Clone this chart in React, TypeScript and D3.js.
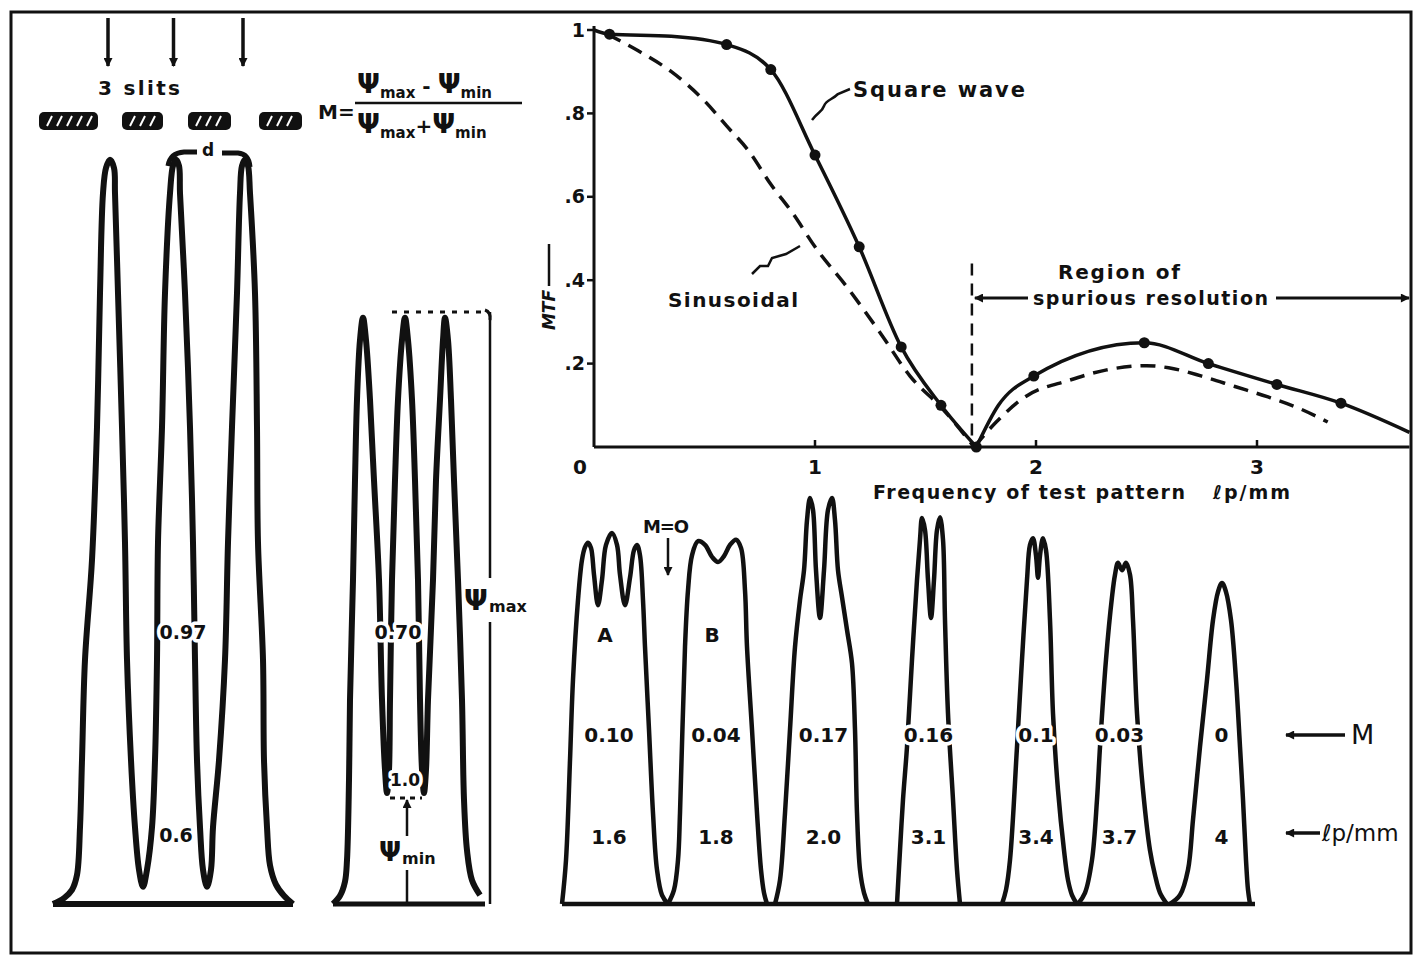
import React from "react";
import * as d3 from "d3";

type Pt = [number, number];

// MTF plot: frequency (lp/mm) and modulation
const squareFreq = [0, 0.07, 0.35, 0.6, 0.8, 1.0, 1.2, 1.39, 1.57, 1.73, 1.83, 1.99, 2.49, 2.78, 3.09, 3.38, 3.69];
const squareMTF = [1.0, 0.99, 0.985, 0.965, 0.905, 0.7, 0.48, 0.24, 0.1, 0.0, 0.1, 0.17, 0.25, 0.2, 0.15, 0.105, 0.035];
const squareMeasured = [false, true, false, true, true, true, true, true, true, true, false, true, true, true, true, true, false];

const sineFreq = [0.06, 0.2, 0.35, 0.5, 0.6, 0.7, 0.8, 0.9, 1.0, 1.15, 1.3, 1.43, 1.58, 1.72, 1.82, 1.95, 2.15, 2.32, 2.5, 2.6, 2.75, 2.9, 3.05, 3.18, 3.32];
const sineMTF = [0.99, 0.95, 0.9, 0.83, 0.77, 0.71, 0.63, 0.56, 0.48, 0.38, 0.27, 0.17, 0.09, 0.0, 0.06, 0.12, 0.16, 0.185, 0.195, 0.19, 0.17, 0.145, 0.12, 0.095, 0.06];

const mtfTicks = [0.2, 0.4, 0.6, 0.8, 1];
const mtfTickLabels = [".2", ".4", ".6", ".8", "1"];
const freqTicks = [1, 2, 3];
const spuriousFrom = 1.71;

// image profiles: [position (cm on the page), relative irradiance]
const slitProfile: Pt[] = [
  [0.41, 0], [0.52, 0.008], [0.6, 0.019], [0.65, 0.039], [0.68, 0.103], [0.7, 0.193], [0.73, 0.328],
  [0.8, 0.462], [0.85, 0.64], [0.88, 0.82], [0.91, 0.954], [0.94, 0.988], [0.98, 0.999], [1.02, 0.988],
  [1.03, 0.954], [1.06, 0.82], [1.1, 0.64], [1.13, 0.485], [1.15, 0.328], [1.19, 0.193], [1.23, 0.103],
  [1.27, 0.046], [1.31, 0.023], [1.35, 0.046], [1.4, 0.103], [1.43, 0.193], [1.45, 0.328], [1.46, 0.485],
  [1.5, 0.64], [1.53, 0.82], [1.58, 0.954], [1.61, 0.991], [1.64, 0.999], [1.67, 0.991], [1.68, 0.954],
  [1.73, 0.82], [1.78, 0.64], [1.81, 0.485], [1.83, 0.328], [1.85, 0.193], [1.88, 0.103], [1.91, 0.046],
  [1.95, 0.023], [1.99, 0.046], [2.01, 0.103], [2.07, 0.193], [2.13, 0.328], [2.16, 0.485], [2.2, 0.64],
  [2.25, 0.82], [2.28, 0.954], [2.3, 0.991], [2.33, 0.999], [2.36, 0.991], [2.38, 0.954], [2.43, 0.82],
  [2.45, 0.64], [2.46, 0.485], [2.51, 0.328], [2.52, 0.193], [2.55, 0.103], [2.58, 0.052], [2.64, 0.026],
  [2.72, 0.011], [2.81, 0],
];

const blurredProfile: Pt[] = [
  [3.21, 0], [3.28, 0.011], [3.33, 0.03], [3.35, 0.059], [3.37, 0.166], [3.38, 0.274], [3.41, 0.435],
  [3.43, 0.569], [3.45, 0.677], [3.48, 0.757], [3.51, 0.787], [3.54, 0.757], [3.58, 0.677], [3.62, 0.569],
  [3.67, 0.435], [3.7, 0.274], [3.73, 0.18], [3.75, 0.149], [3.77, 0.18], [3.78, 0.274], [3.8, 0.435],
  [3.83, 0.569], [3.86, 0.677], [3.9, 0.757], [3.93, 0.787], [3.96, 0.757], [4.0, 0.677], [4.03, 0.569],
  [4.06, 0.435], [4.08, 0.274], [4.1, 0.18], [4.12, 0.149], [4.14, 0.18], [4.16, 0.274], [4.21, 0.435],
  [4.24, 0.569], [4.28, 0.677], [4.31, 0.757], [4.33, 0.787], [4.36, 0.757], [4.39, 0.677], [4.42, 0.569],
  [4.46, 0.435], [4.5, 0.274], [4.52, 0.14], [4.55, 0.072], [4.6, 0.032], [4.68, 0.012],
];

const profileA: Pt[] = [
  [5.5, 0], [5.54, 0.059], [5.58, 0.193], [5.61, 0.301], [5.66, 0.408], [5.7, 0.462], [5.73, 0.479],
  [5.76, 0.485], [5.79, 0.478], [5.82, 0.442], [5.86, 0.401], [5.9, 0.435], [5.94, 0.482], [6.0, 0.498],
  [6.05, 0.482], [6.08, 0.442], [6.13, 0.401], [6.18, 0.438], [6.22, 0.475], [6.25, 0.482], [6.28, 0.468],
  [6.31, 0.408], [6.33, 0.345], [6.37, 0.234], [6.41, 0.122], [6.45, 0.046], [6.5, 0.012], [6.56, 0],
];
const profileB: Pt[] = [
  [6.56, 0], [6.62, 0.019], [6.66, 0.059], [6.68, 0.122], [6.73, 0.345], [6.76, 0.421], [6.8, 0.468],
  [6.86, 0.487], [6.93, 0.482], [7.0, 0.466], [7.06, 0.459], [7.12, 0.467], [7.18, 0.482], [7.24, 0.489],
  [7.29, 0.478], [7.33, 0.421], [7.35, 0.345], [7.4, 0.234], [7.45, 0.122], [7.49, 0.046], [7.52, 0.015], [7.55, 0],
];
const profileC: Pt[] = [
  [7.63, 0], [7.68, 0.032], [7.73, 0.122], [7.78, 0.234], [7.83, 0.345], [7.88, 0.408], [7.92, 0.448],
  [7.95, 0.515], [7.98, 0.545], [8.01, 0.529], [8.04, 0.448], [8.08, 0.384], [8.12, 0.448], [8.16, 0.529],
  [8.2, 0.545], [8.23, 0.515], [8.26, 0.448], [8.3, 0.412], [8.35, 0.368], [8.4, 0.323], [8.43, 0.234],
  [8.45, 0.122], [8.48, 0.046], [8.52, 0.015], [8.56, 0],
];
const profileD: Pt[] = [
  [8.85, 0], [8.88, 0.072], [8.91, 0.14], [8.95, 0.211], [9.0, 0.328], [9.05, 0.435], [9.08, 0.489],
  [9.1, 0.518], [9.13, 0.502], [9.16, 0.435], [9.19, 0.384], [9.22, 0.435], [9.25, 0.502], [9.28, 0.519],
  [9.31, 0.489], [9.33, 0.381], [9.36, 0.256], [9.41, 0.14], [9.45, 0.046], [9.48, 0],
];
const profileE: Pt[] = [
  [9.9, 0], [9.94, 0.019], [9.98, 0.059], [10.05, 0.211], [10.1, 0.328], [10.15, 0.435], [10.18, 0.482],
  [10.21, 0.491], [10.24, 0.468], [10.26, 0.438], [10.28, 0.468], [10.31, 0.491], [10.34, 0.475],
  [10.38, 0.381], [10.41, 0.256], [10.46, 0.153], [10.52, 0.072], [10.56, 0.032], [10.6, 0.012], [10.65, 0],
];
const profileF: Pt[] = [
  [10.66, 0], [10.73, 0.015], [10.8, 0.059], [10.85, 0.14], [10.88, 0.211], [10.94, 0.328], [11.0, 0.412],
  [11.03, 0.442], [11.06, 0.458], [11.1, 0.448], [11.14, 0.458], [11.18, 0.442], [11.21, 0.381],
  [11.25, 0.256], [11.31, 0.153], [11.38, 0.072], [11.43, 0.039], [11.48, 0.015], [11.55, 0],
];
const profileG: Pt[] = [
  [11.58, 0], [11.68, 0.012], [11.76, 0.046], [11.81, 0.113], [11.88, 0.211], [11.95, 0.301], [12.01, 0.381],
  [12.06, 0.419], [12.1, 0.431], [12.14, 0.419], [12.19, 0.381], [12.24, 0.301], [12.28, 0.211],
  [12.31, 0.14], [12.34, 0.059], [12.36, 0.019], [12.38, 0],
];

const barProfiles = [profileA, profileB, profileC, profileD, profileE, profileF, profileG];
const barLetters = ["A", "B", "", "", "", "", ""];
const barModulation = ["0.10", "0.04", "0.17", "0.16", "0.1", "0.03", "0"];
const barFrequency = ["1.6", "1.8", "2.0", "3.1", "3.4", "3.7", "4"];

// opaque bars of the 3-slit target (cm on the page)
const slitBars: Pt[] = [[0.27, 0.86], [1.1, 1.51], [1.76, 2.19], [2.47, 2.9]];

const slitBase: Pt = [0.41, 2.81];
const blurBase: Pt = [3.21, 4.73];
const barBase: Pt = [5.5, 12.43];

const W = 1416;
const H = 959;

const sx = d3.scaleLinear().domain([0, 14]).range([12, 1412]);
const sy = d3.scaleLinear().domain([0, 1]).range([904, 159]);
const fx = d3.scaleLinear().domain([0, 1]).range([594, 815]);
const my = d3.scaleLinear().domain([0, 1]).range([447, 30]);

const halo: React.CSSProperties = {
  paintOrder: "stroke",
  stroke: "#fff",
  strokeWidth: 7,
  strokeLinejoin: "round",
};

const App: React.FC = () => {
  const profileLine = d3
    .line<Pt>()
    .x((d) => sx(d[0]))
    .y((d) => sy(d[1]))
    .curve(d3.curveCatmullRom.alpha(0.5));

  const mtfLine = d3
    .line<Pt>()
    .x((d) => fx(d[0]))
    .y((d) => my(d[1]))
    .curve(d3.curveMonotoneX);

  // split a curve at its zero so the cusp stays sharp
  const split = (f: number[], v: number[]) => {
    const pts = f.map((x, i) => [x, v[i]] as Pt);
    const k = v.indexOf(Math.min(...v));
    return [pts.slice(0, k + 1), pts.slice(k)];
  };
  const squareParts = split(squareFreq, squareMTF);
  const sineParts = split(sineFreq, sineMTF);

  const labelX = (p: Pt[]) => {
    const hi = p.filter((d) => d[1] > 0.3);
    return sx((hi[0][0] + hi[hi.length - 1][0]) / 2);
  };

  const x0 = fx(0);
  const y0 = my(0);
  const xEnd = fx(3.69);

  return (
    <svg
      width={W}
      height={H}
      viewBox={`0 0 ${W} ${H}`}
      style={{ position: "absolute", left: 0, top: 0, background: "#fff" }}
    >
      <defs>
        <marker id="head" viewBox="0 0 10 10" refX="9" refY="5" markerWidth="11" markerHeight="9"
          markerUnits="userSpaceOnUse" orient="auto-start-reverse">
          <path d="M0,0 L10,5 L0,10 z" fill="#111" />
        </marker>
      </defs>
      <rect width={W} height={H} fill="#fff" />
      <g fontFamily="'DejaVu Sans', 'Liberation Sans', sans-serif" fill="#111">
        {/* frame */}
        <rect x={11} y={12} width={1400} height={941} fill="none" stroke="#111" strokeWidth={3} />

        {/* ---------- 3-slit target ---------- */}
        {slitBars.slice(0, 3).map((b, i) => {
          const cx = (sx(b[1]) + sx(slitBars[i + 1][0])) / 2;
          return (
            <line key={`ar${i}`} x1={cx - 2} y1={18} x2={cx - 2} y2={66} stroke="#111" strokeWidth={3.5}
              markerEnd="url(#head)" />
          );
        })}
        <text x={98} y={88} dy="0.35em" fontSize={20} fontWeight="bold" textLength={82}>3 slits</text>
        {slitBars.map((b, i) => {
          const xa = sx(b[0]);
          const xb = sx(b[1]);
          const hatches = d3.range(xa + 8, xb - 6, 10);
          return (
            <g key={`sb${i}`}>
              <rect x={xa} y={112} width={xb - xa} height={18} rx={5} fill="#111" />
              {hatches.map((h) => (
                <line key={h} x1={h} y1={126} x2={h + 5} y2={116} stroke="#fff" strokeWidth={2} />
              ))}
            </g>
          );
        })}

        {/* formula */}
        <text x={318} y={112} dy="0.35em" fontSize={20} fontWeight="bold">M=</text>
        <text x={357} y={93} fontWeight="bold">
          <tspan fontSize={27}>Ψ</tspan>
          <tspan fontSize={15} dy={5}>max</tspan>
          <tspan fontSize={20} dy={-5}> - </tspan>
          <tspan fontSize={27}>Ψ</tspan>
          <tspan fontSize={15} dy={5}>min</tspan>
        </text>
        <line x1={355} x2={522} y1={103} y2={103} stroke="#111" strokeWidth={2.5} />
        <text x={357} y={133} fontWeight="bold">
          <tspan fontSize={27}>Ψ</tspan>
          <tspan fontSize={15} dy={5}>max</tspan>
          <tspan fontSize={20} dy={-5}>+</tspan>
          <tspan fontSize={27}>Ψ</tspan>
          <tspan fontSize={15} dy={5}>min</tspan>
        </text>

        {/* slit image profile */}
        <line x1={sx(slitBase[0])} x2={sx(slitBase[1])} y1={sy(0)} y2={sy(0)} stroke="#111" strokeWidth={6} />
        <path d={profileLine(slitProfile) ?? ""} fill="none" stroke="#111" strokeWidth={6} strokeLinejoin="round" />
        <path d="M168,166 Q170,153 184,152 L197,152" fill="none" stroke="#111" strokeWidth={5} />
        <path d="M222,153 L238,153 Q249,154 250,167" fill="none" stroke="#111" strokeWidth={5} />
        <text x={208} y={150} dy="0.35em" textAnchor="middle" fontSize={17} fontWeight="bold">d</text>
        <text x={183} y={632} dy="0.35em" textAnchor="middle" fontSize={19} fontWeight="bold" style={halo}>0.97</text>
        <text x={176} y={835} dy="0.35em" textAnchor="middle" fontSize={19} fontWeight="bold" style={halo}>0.6</text>

        {/* blurred profile */}
        <line x1={sx(blurBase[0])} x2={sx(blurBase[1])} y1={sy(0)} y2={sy(0)} stroke="#111" strokeWidth={5} />
        <path d={profileLine(blurredProfile) ?? ""} fill="none" stroke="#111" strokeWidth={6} strokeLinejoin="round" />
        <text x={398} y={632} dy="0.35em" textAnchor="middle" fontSize={19} fontWeight="bold" style={halo}>0.70</text>
        <text x={405} y={780} dy="0.35em" textAnchor="middle" fontSize={17} fontWeight="bold" style={halo}>1.0</text>
        {/* Psi max */}
        <line x1={392} x2={486} y1={312} y2={312} stroke="#111" strokeWidth={3} strokeDasharray="5 7" />
        <line x1={490} x2={490} y1={312} y2={578} stroke="#111" strokeWidth={2.5} />
        <line x1={490} x2={490} y1={622} y2={904} stroke="#111" strokeWidth={2.5} />
        <path d="M485,310 Q491,312 490,320" fill="none" stroke="#111" strokeWidth={3} />
        <text x={476} y={600} dy="0.35em" textAnchor="middle" fontSize={28} fontWeight="bold">Ψ</text>
        <text x={489} y={612} fontSize={16} fontWeight="bold">max</text>
        {/* Psi min */}
        <line x1={390} x2={422} y1={798} y2={798} stroke="#111" strokeWidth={3} strokeDasharray="5 5" />
        <line x1={407} x2={407} y1={836} y2={800} stroke="#111" strokeWidth={2.5} markerEnd="url(#head)" />
        <text x={390} y={852} dy="0.35em" textAnchor="middle" fontSize={26} fontWeight="bold">Ψ</text>
        <text x={402} y={864} fontSize={16} fontWeight="bold">min</text>
        <line x1={407} x2={407} y1={870} y2={903} stroke="#111" strokeWidth={2.5} />

        {/* ---------- MTF graph ---------- */}
        <line x1={x0} x2={x0} y1={y0} y2={my(1) - 4} stroke="#111" strokeWidth={3} />
        <line x1={x0} x2={xEnd} y1={y0} y2={y0} stroke="#111" strokeWidth={3} />
        {mtfTicks.map((t, i) => (
          <g key={`yt${i}`}>
            <line x1={x0 - 7} x2={x0} y1={my(t)} y2={my(t)} stroke="#111" strokeWidth={2.5} />
            <text x={x0 - 9} y={my(t)} dy="0.35em" textAnchor="end" fontSize={19} fontWeight="bold">
              {mtfTickLabels[i]}
            </text>
          </g>
        ))}
        <text x={580} y={y0 + 20} dy="0.35em" textAnchor="middle" fontSize={20} fontWeight="bold">0</text>
        {freqTicks.map((t) => (
          <g key={`xt${t}`}>
            <line x1={fx(t)} x2={fx(t)} y1={y0} y2={y0 - 7} stroke="#111" strokeWidth={2.5} />
            <text x={fx(t)} y={y0 + 20} dy="0.35em" textAnchor="middle" fontSize={20} fontWeight="bold">{t}</text>
          </g>
        ))}
        <text x={873} y={492} dy="0.35em" fontSize={19} fontWeight="bold" textLength={312}>
          Frequency of test pattern
        </text>
        <text x={1213} y={492} dy="0.35em" fontSize={19} fontWeight="bold" textLength={77}>ℓp/mm</text>
        <line x1={549} x2={549} y1={244} y2={286} stroke="#111" strokeWidth={2.5} />
        <text transform="translate(555,310) rotate(-90)" textAnchor="middle" fontSize={17} fontWeight="bold"
          fontStyle="italic">MTF</text>

        {sineParts.map((p, i) => (
          <path key={`sn${i}`} d={mtfLine(p) ?? ""} fill="none" stroke="#111" strokeWidth={3.5}
            strokeDasharray="15 9" />
        ))}
        {squareParts.map((p, i) => (
          <path key={`sq${i}`} d={mtfLine(p) ?? ""} fill="none" stroke="#111" strokeWidth={3.5} />
        ))}
        {squareFreq.map((f, i) =>
          squareMeasured[i] ? <circle key={`dot${i}`} cx={fx(f)} cy={my(squareMTF[i])} r={5.5} fill="#111" /> : null
        )}

        {/* spurious resolution */}
        <line x1={fx(spuriousFrom)} x2={fx(spuriousFrom)} y1={my(0.44)} y2={y0} stroke="#111" strokeWidth={2.5}
          strokeDasharray="12 8" />
        <text x={1119} y={272} dy="0.35em" textAnchor="middle" fontSize={20} fontWeight="bold" textLength={122}>
          Region of
        </text>
        <line x1={1028} x2={fx(spuriousFrom) + 3} y1={298} y2={298} stroke="#111" strokeWidth={3}
          markerEnd="url(#head)" />
        <text x={1033} y={298} dy="0.35em" fontSize={19} fontWeight="bold" textLength={235}>
          spurious resolution
        </text>
        <line x1={1276} x2={1409} y1={298} y2={298} stroke="#111" strokeWidth={3} markerEnd="url(#head)" />

        {/* curve labels */}
        <path d="M812,120 C818,112 822,112 824,106 C826,100 832,100 838,94 L850,89" fill="none" stroke="#111"
          strokeWidth={2.5} />
        <text x={853} y={90} dy="0.35em" fontSize={21} fontWeight="bold" textLength={172}>Square wave</text>
        <path d="M752,274 L760,266 L768,266 L772,258 L786,254 L800,246" fill="none" stroke="#111" strokeWidth={2.5} />
        <text x={668} y={300} dy="0.35em" fontSize={20} fontWeight="bold" textLength={130}>Sinusoidal</text>

        {/* ---------- bar target images ---------- */}
        <line x1={sx(barBase[0])} x2={sx(barBase[1])} y1={sy(0)} y2={sy(0)} stroke="#111" strokeWidth={4.5} />
        {barProfiles.map((p, i) => (
          <path key={`bp${i}`} d={profileLine(p) ?? ""} fill="none" stroke="#111" strokeWidth={4.5}
            strokeLinejoin="round" />
        ))}
        {barProfiles.map((p, i) => {
          const cx = labelX(p);
          return (
            <g key={`bl${i}`} fontSize={20} fontWeight="bold" textAnchor="middle">
              {barLetters[i] && (
                <text x={cx - 4} y={635} dy="0.35em">{barLetters[i]}</text>
              )}
              <text x={cx} y={735} dy="0.35em" style={halo}>{barModulation[i]}</text>
              <text x={cx} y={837} dy="0.35em" style={halo}>{barFrequency[i]}</text>
            </g>
          );
        })}
        <text x={666} y={527} dy="0.35em" textAnchor="middle" fontSize={18} fontWeight="bold" textLength={46}>M=O</text>
        <line x1={668} x2={668} y1={538} y2={575} stroke="#111" strokeWidth={2.5} markerEnd="url(#head)" />

        <line x1={1345} x2={1286} y1={735} y2={735} stroke="#111" strokeWidth={3.5} markerEnd="url(#head)" />
        <text x={1351} y={735} dy="0.35em" fontSize={27}>M</text>
        <line x1={1320} x2={1286} y1={833} y2={833} stroke="#111" strokeWidth={3.5} markerEnd="url(#head)" />
        <text x={1322} y={833} dy="0.35em" fontSize={23}>ℓp/mm</text>
      </g>
    </svg>
  );
};

export default App;
